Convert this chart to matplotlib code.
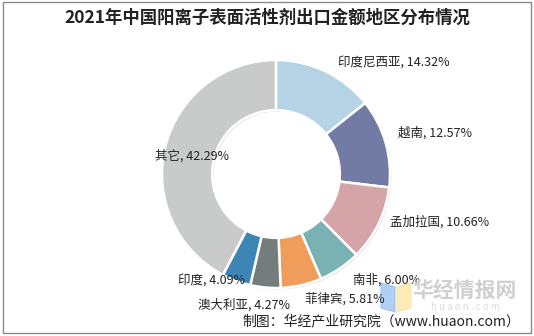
import numpy as np
import matplotlib.pyplot as plt
from matplotlib.patches import Rectangle, Polygon
import matplotlib.patheffects as pe

plt.rcParams['font.family'] = ['Noto Sans CJK SC', 'DejaVu Sans']

regions = ['印度尼西亚', '越南', '孟加拉国', '南非', '菲律宾', '澳大利亚', '印度', '其它']
shares = [14.32, 12.57, 10.66, 6.00, 5.81, 4.27, 4.09, 42.29]
colors = ['#b5d3e5', '#727ba3', '#d4a4a6', '#7ab2b3', '#f09d5c', '#747c7c', '#3c85b5', '#c8cbca']

# label anchors in pixels (x, y from top) and horizontal alignment
label_pos = [(338, 62, 'left'), (398, 133, 'left'), (390, 222, 'left'), (353, 280, 'left'),
             (305, 299, 'left'), (290, 305, 'right'), (245, 280, 'right'), (155, 156, 'left')]

W, H = 534, 336
fig = plt.figure(figsize=(W / 100, H / 100), dpi=100)
ax = fig.add_axes([0, 0, 1, 1])

cx, cy, R = 276, H - 174, 114
wedges, _ = ax.pie(shares, colors=colors, startangle=90, counterclock=False,
                   center=(cx, cy), radius=R, frame=True,
                   wedgeprops=dict(width=R * 0.44, edgecolor='white', linewidth=1.8))
for w in wedges:
    w.set_path_effects([pe.SimplePatchShadow(offset=(1, -1), shadow_rgbFace='#999999', alpha=0.35),
                        pe.Normal()])
ax.set_xlim(0, W)
ax.set_ylim(0, H)
ax.set_aspect('equal')
ax.axis('off')

for name, val, (x, y, ha) in zip(regions, shares, label_pos):
    ax.text(x, H - y, f'{name}, {val:.2f}%', ha=ha, va='center', fontsize=9, color='#222222')

# title and frame
ax.text(W / 2, H - 18, '2021年中国阳离子表面活性剂出口金额地区分布情况', ha='center', va='center',
        fontsize=12.5, fontweight='bold', color='#222222')
ax.add_patch(Rectangle((3, 3), W - 6, H - 5, fill=False, edgecolor='#8a8a8a', linewidth=1))

# watermark
ax.add_patch(Polygon([(381, H - 283), (395, H - 287), (395, H - 312), (381, H - 308)],
                     closed=True, color='#9ec3f0', alpha=0.8))
ax.add_patch(Polygon([(397, H - 287), (411, H - 283), (411, H - 308), (397, H - 312)],
                     closed=True, color='#fbe7a6', alpha=0.8))
ax.text(465, H - 290, '华经情报网', ha='center', va='center', fontsize=15,
        fontweight='bold', color='#d0d0d0')
ax.text(465, H - 307, 'h u a o n . c o m', ha='center', va='center', fontsize=7, color='#dcdcdc')

ax.text(520, H - 321, '制图：华经产业研究院（www.huaon.com）', ha='right', va='center',
        fontsize=10, color='#222222')

fig.savefig('out.png', dpi=100)
